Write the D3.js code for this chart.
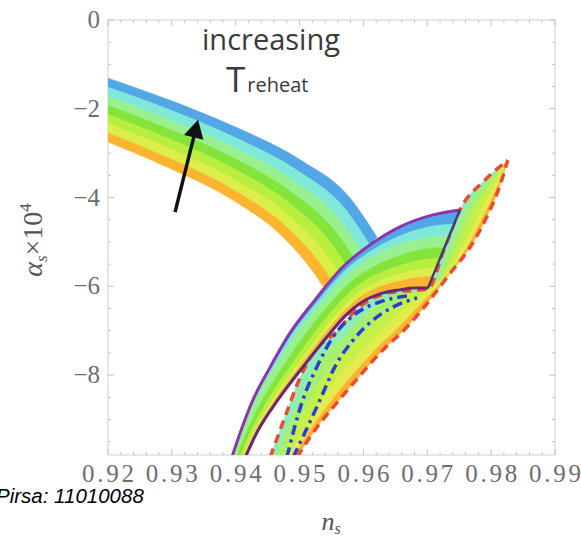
<!DOCTYPE html>
<html>
<head>
<meta charset="utf-8">
<script src="https://cdn.jsdelivr.net/npm/d3@7"></script>
<style>
  body { margin: 0; background: #fff; }
  svg { display: block; }
</style>
</head>
<body>
<svg id="chart" width="581" height="539"></svg>
<script>
// axis ticks
var xTicks = [0.92, 0.93, 0.94, 0.95, 0.96, 0.97, 0.98, 0.99];
var yTicks = [0, -2, -4, -6, -8];

// upper-left band: top and bottom edge, points are [n_s, alpha_s x 1e4]
var bandTop    = [[0.9200,-1.31],[0.9292,-1.78],[0.9396,-2.39],[0.9501,-3.15],[0.9579,-4.01],[0.9621,-4.89]];
var bandBottom = [[0.9200,-2.75],[0.9292,-3.31],[0.9396,-4.06],[0.9474,-4.89],[0.9527,-5.79],[0.9543,-6.15]];

// region bounded by the purple curves
var purpleOuter = [[0.9394,-9.85],[0.9407,-9.30],[0.9427,-8.56],[0.9454,-7.82],[0.9485,-7.05],[0.9524,-6.31],
                   [0.9568,-5.56],[0.9615,-5.02],[0.9657,-4.66],[0.9709,-4.39],[0.9751,-4.28]];
var purpleInner = [[0.9415,-9.85],[0.9433,-9.30],[0.9466,-8.56],[0.9505,-7.82],[0.9548,-7.05],[0.9571,-6.67],
                   [0.9595,-6.38],[0.9626,-6.17],[0.9657,-6.08],[0.9681,-6.04],[0.9701,-6.04]];

// region bounded by the red dashed curves
var redLeft  = [[0.9454,-9.85],[0.9477,-8.95],[0.9501,-8.05],[0.9524,-7.44],[0.9552,-7.10],[0.9595,-6.45],
                [0.9642,-6.14],[0.9701,-6.06],[0.9726,-5.18],[0.9751,-4.28],[0.9790,-3.61],[0.9826,-3.16]];
var redRight = [[0.9496,-9.85],[0.9524,-9.24],[0.9555,-8.68],[0.9587,-8.14],[0.9626,-7.50],[0.9668,-6.92],
                [0.9704,-6.31],[0.9736,-5.70],[0.9767,-5.12],[0.9793,-4.44],[0.9814,-3.72],[0.9826,-3.16]];

// blue dot-dashed curves
var blueA = [[0.9480,-9.85],[0.9505,-8.56],[0.9527,-7.82],[0.9552,-7.15],[0.9584,-6.66],[0.9626,-6.35],[0.9668,-6.22]];
var blueB = [[0.9490,-9.85],[0.9532,-8.56],[0.9555,-7.82],[0.9584,-7.21],[0.9615,-6.76],[0.9646,-6.47],[0.9684,-6.26]];

var arrowFrom = [0.9305, -4.33];
var arrowTo   = [0.9341, -2.25];

var rainbow = ["#52a8e6", "#7fe8d8", "#98f08e", "#84e43a", "#b8ee3e", "#dcee48", "#fdb42e"];
var greens  = ["#8eecb8", "#a6f070", "#c4f048", "#e4ec4c", "#fcb232"];

// plot box in pixels
var boxL = 108, boxR = 555, boxT = 20, boxB = 455;

var svg = d3.select("#chart");
var x = d3.scaleLinear().domain([0.92, 0.99]).range([boxL, boxR]);
var y = d3.scaleLinear().domain([-9.8, 0]).range([boxB, boxT]);

var line = d3.line().x(function (d) { return x(d[0]); }).y(function (d) { return y(d[1]); })
    .curve(d3.curveMonotoneX);

// interpolate between two curves, t may change along the curve (t0 at start, t1 at end)
function mix(a, b, t0, t1) {
    var n = a.length;
    return a.map(function (p, i) {
        var t = t0 + (t1 - t0) * i / (n - 1);
        return [p[0] + (b[i][0] - p[0]) * t, p[1] + (b[i][1] - p[1]) * t];
    });
}
function strip(upper, lower) {
    return line(upper) + "L" + line(lower.slice().reverse()).slice(1) + "Z";
}

svg.append("defs").append("clipPath").attr("id", "plot")
    .append("rect").attr("x", boxL).attr("y", boxT).attr("width", boxR - boxL).attr("height", boxB - boxT);

// frame
svg.append("rect").attr("x", boxL).attr("y", boxT).attr("width", boxR - boxL).attr("height", boxB - boxT)
    .style("fill", "none").style("stroke", "#cfcfcf").style("stroke-width", 1);

var ticks = svg.append("g").style("stroke", "#c4c4c4").style("stroke-width", 1);
d3.range(0, 36).forEach(function (i) {
    var px = x(0.92 + i * 0.002), len = (i % 5 === 0) ? 6 : 3;
    ticks.append("line").attr("x1", px).attr("x2", px).attr("y1", boxB).attr("y2", boxB - len);
    ticks.append("line").attr("x1", px).attr("x2", px).attr("y1", boxT).attr("y2", boxT + len);
});
d3.range(0, 20).forEach(function (i) {
    var py = y(-i * 0.5), len = (i % 4 === 0) ? 6 : 3;
    ticks.append("line").attr("y1", py).attr("y2", py).attr("x1", boxL).attr("x2", boxL + len);
    ticks.append("line").attr("y1", py).attr("y2", py).attr("x1", boxR).attr("x2", boxR - len);
});

svg.selectAll(".xt").data(xTicks).enter().append("text").attr("class", "xt")
    .attr("x", function (d) { return x(d); }).attr("y", 482)
    .attr("text-anchor", "middle").attr("textLength", 52).attr("lengthAdjust", "spacing")
    .style("font-family", "Liberation Serif").style("font-size", "25px").style("fill", "#6e6e6e")
    .text(function (d) { return d3.format(".2f")(d); });
svg.selectAll(".yt").data(yTicks).enter().append("text").attr("class", "yt")
    .attr("x", 100).attr("y", function (d) { return y(d) + 8; })
    .attr("text-anchor", "end")
    .style("font-family", "Liberation Serif").style("font-size", "25px").style("fill", "#6e6e6e")
    .text(function (d) { return d === 0 ? "0" : "\u2212" + Math.abs(d); });

var plot = svg.append("g").attr("clip-path", "url(#plot)");

// red dashed region fill
var gB = [0, 0.2, 0.45, 0.7, 0.88, 1];
greens.forEach(function (c, k) {
    plot.append("path").attr("d", strip(mix(redLeft, redRight, gB[k], gB[k]), mix(redLeft, redRight, gB[k + 1], gB[k + 1])))
        .style("fill", c).style("stroke", c).style("stroke-width", 0.6);
});
[redLeft, redRight].forEach(function (c) {
    plot.append("path").attr("d", line(c)).style("fill", "none")
        .style("stroke", "#ee4a2c").style("stroke-width", 3.5).style("stroke-dasharray", "9,6");
});
[blueA, blueB].forEach(function (c) {
    plot.append("path").attr("d", line(c)).style("fill", "none")
        .style("stroke", "#2c3cd6").style("stroke-width", 3.5).style("stroke-dasharray", "10,5,3,5");
});

// upper-left band
rainbow.forEach(function (c, k) {
    var t0 = k / rainbow.length, t1 = (k + 1) / rainbow.length;
    plot.append("path").attr("d", strip(mix(bandTop, bandBottom, t0, t0), mix(bandTop, bandBottom, t1, t1)))
        .style("fill", c).style("stroke", c).style("stroke-width", 0.6);
});

// purple region, stripes thin out towards the lower end
var startB = [0, 0, 0.05, 0.35, 0.6, 0.8, 0.9, 1];
var endB   = [0, 0.18, 0.34, 0.48, 0.62, 0.74, 0.85, 1];
rainbow.forEach(function (c, k) {
    plot.append("path").attr("d", strip(mix(purpleOuter, purpleInner, startB[k], endB[k]),
                                        mix(purpleOuter, purpleInner, startB[k + 1], endB[k + 1])))
        .style("fill", c).style("stroke", c).style("stroke-width", 0.6);
});
plot.append("path").attr("d", line(purpleOuter)).style("fill", "none")
    .style("stroke", "#8a36ae").style("stroke-width", 3);
plot.append("path").attr("d", line(purpleInner)).style("fill", "none")
    .style("stroke", "#66287c").style("stroke-width", 3);
var last = purpleOuter.length - 1;
plot.append("path").attr("d", d3.line()([[x(purpleOuter[last][0]), y(purpleOuter[last][1])],
                                         [x(purpleInner[last][0]), y(purpleInner[last][1])]]))
    .style("fill", "none").style("stroke", "#4a3c6a").style("stroke-width", 2.5);

// arrow
var p1 = [x(arrowFrom[0]), y(arrowFrom[1])], p2 = [x(arrowTo[0]), y(arrowTo[1])];
var dx = p2[0] - p1[0], dy = p2[1] - p1[1], len = Math.sqrt(dx * dx + dy * dy);
var ux = dx / len, uy = dy / len, hl = 18, hw = 10;
var base = [p2[0] - ux * hl, p2[1] - uy * hl];
svg.append("line").attr("x1", p1[0]).attr("y1", p1[1]).attr("x2", base[0] + ux * 2).attr("y2", base[1] + uy * 2)
    .style("stroke", "#111").style("stroke-width", 3.5);
svg.append("path").attr("d", "M" + p2 + "L" + [base[0] - uy * hw, base[1] + ux * hw] + "L" + [base[0] + uy * hw, base[1] - ux * hw] + "Z")
    .style("fill", "#111");

// annotation
svg.append("text").attr("x", 271).attr("y", 50).attr("text-anchor", "middle")
    .style("font-family", "Open Sans").style("font-size", "29px").style("fill", "#3a3a3a").text("increasing");
var tr = svg.append("text").attr("x", 226).attr("y", 92)
    .style("font-family", "Open Sans").style("fill", "#3a3a3a");
tr.append("tspan").style("font-size", "35px").text("T");
tr.append("tspan").style("font-size", "20px").attr("dx", 2).text("reheat");

// axis labels
var yl = svg.append("text").attr("transform", "translate(42,240) rotate(-90)").attr("text-anchor", "middle")
    .style("font-family", "Liberation Serif").style("font-size", "28px").style("fill", "#555");
yl.append("tspan").style("font-style", "italic").text("\u03b1");
yl.append("tspan").style("font-style", "italic").style("font-size", "17px").attr("dy", 5).text("s");
yl.append("tspan").attr("dy", -5).text("\u00d710");
yl.append("tspan").style("font-size", "17px").attr("dy", -11).text("4");

var xl = svg.append("text").attr("x", 331).attr("y", 530).attr("text-anchor", "middle")
    .style("font-family", "Liberation Serif").style("font-size", "26px").style("fill", "#555");
xl.append("tspan").style("font-style", "italic").text("n");
xl.append("tspan").style("font-style", "italic").style("font-size", "16px").attr("dy", 4).text("s");

svg.append("text").attr("x", -4).attr("y", 503)
    .style("font-family", "Liberation Sans").style("font-style", "italic").style("font-size", "20.5px")
    .style("fill", "#000").text("Pirsa: 11010088");
</script>
</body>
</html>
